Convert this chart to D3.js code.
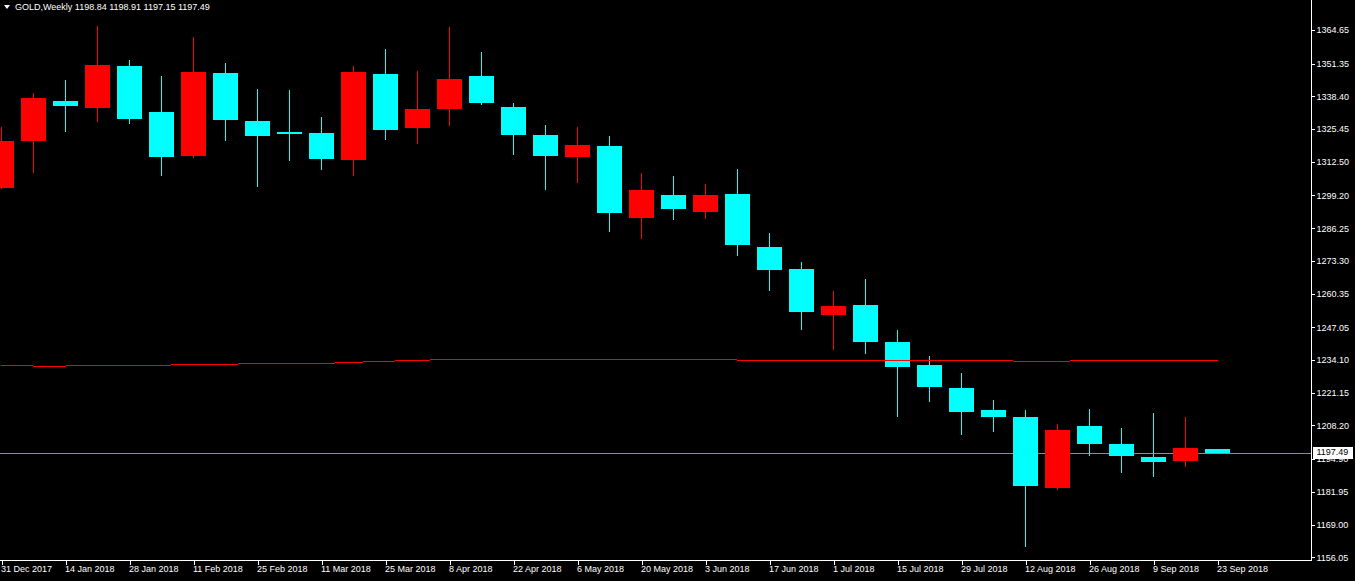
<!DOCTYPE html>
<html><head><meta charset="utf-8">
<script src="https://cdn.jsdelivr.net/npm/d3@7"></script>
<style>
html,body{margin:0;padding:0;background:#000;}
svg{display:block;}
text{font-family:"Liberation Sans",Arial,sans-serif;}
</style></head>
<body>
<svg id="c" width="1355" height="581"></svg>
<script>
// ---- data ----
const weeks = ["31 Dec 2017","7 Jan 2018","14 Jan 2018","21 Jan 2018","28 Jan 2018","4 Feb 2018","11 Feb 2018","18 Feb 2018","25 Feb 2018","4 Mar 2018","11 Mar 2018","18 Mar 2018","25 Mar 2018","1 Apr 2018","8 Apr 2018","15 Apr 2018","22 Apr 2018","29 Apr 2018","6 May 2018","13 May 2018","20 May 2018","27 May 2018","3 Jun 2018","10 Jun 2018","17 Jun 2018","24 Jun 2018","1 Jul 2018","8 Jul 2018","15 Jul 2018","22 Jul 2018","29 Jul 2018","5 Aug 2018","12 Aug 2018","19 Aug 2018","26 Aug 2018","2 Sep 2018","9 Sep 2018","16 Sep 2018","23 Sep 2018"];
const open  = [1302.25,1320.73,1336.55,1333.78,1350.40,1332.20,1314.91,1347.63,1328.64,1324.29,1323.89,1313.33,1347.23,1325.99,1333.38,1346.44,1334.18,1323.10,1314.52,1318.75,1290.39,1299.36,1292.76,1299.76,1278.80,1270.09,1252.02,1255.85,1241.22,1232.12,1223.02,1214.32,1211.55,1183.58,1207.99,1200.87,1195.73,1194.26,1198.84];
const high  = [1326.26,1339.71,1344.86,1366.22,1352.77,1346.44,1361.87,1351.58,1341.30,1340.90,1330.22,1350.40,1357.12,1348.42,1365.82,1355.93,1335.76,1327.06,1326.26,1322.70,1308.07,1306.88,1303.72,1309.65,1284.33,1272.86,1261.39,1266.14,1245.96,1235.68,1228.95,1218.27,1214.32,1208.78,1214.71,1207.20,1213.13,1211.55,1198.91];
const low   = [1301.90,1308.19,1324.41,1328.36,1327.57,1307.00,1314.12,1320.84,1302.65,1312.93,1309.37,1307.00,1321.24,1319.66,1326.78,1335.08,1315.31,1301.46,1304.23,1284.85,1282.08,1289.60,1289.99,1275.35,1261.51,1246.08,1238.17,1236.59,1211.67,1217.60,1204.55,1205.73,1160.24,1182.79,1196.24,1189.52,1187.93,1191.89,1197.15];
const close = [1320.73,1337.74,1334.57,1350.79,1329.43,1314.52,1348.02,1329.15,1322.82,1323.61,1313.72,1348.02,1325.20,1333.38,1345.25,1335.88,1323.22,1314.91,1319.14,1292.36,1301.34,1293.95,1299.36,1279.71,1269.82,1253.20,1255.46,1241.34,1231.45,1223.53,1213.65,1211.67,1184.37,1206.41,1200.99,1196.24,1193.87,1199.29,1197.49];
const ma    = [1232.00,1231.72,1231.72,1232.00,1232.00,1232.00,1232.40,1232.40,1232.71,1232.71,1232.71,1233.19,1233.58,1233.98,1234.29,1234.37,1234.37,1234.37,1234.37,1234.37,1234.37,1234.37,1234.37,1234.10,1233.98,1233.98,1233.98,1233.98,1233.98,1233.98,1233.98,1233.90,1233.58,1233.58,1233.90,1233.98,1233.98,1233.98,1233.98];
const priceTicks = [1364.65,1351.35,1338.40,1325.45,1312.50,1299.20,1286.25,1273.30,1260.35,1247.05,1234.10,1221.15,1208.20,1194.90,1181.95,1169.00,1156.05];
const dateTickIdx = [0,2,4,6,8,10,12,14,16,18,20,22,24,26,28,30,32,34,36,38];
const symbol = "GOLD,Weekly";
const bid = 1197.49;

// ---- layout ----
const svg = d3.select("#c");
const W = 1355, H = 581, plotR = 1311.5, plotB = 560.5;
svg.append("rect").attr("width",W).attr("height",H).attr("fill","#000");

const x = d3.scaleLinear().domain([0, weeks.length-1]).range([1.5, 1.5 + 32*(weeks.length-1)]);
const y = d3.scaleLinear().domain([1156.05, 1364.65]).range([557.3, 30]);

const data = weeks.map((w,i)=>({i, w, o:open[i], h:high[i], l:low[i], c:close[i], m:ma[i]}));
const upCol = "#ff0000", dnCol = "#00ffff";
const col = d => d.c >= d.o ? upCol : dnCol;

const g = svg.append("g");
// bid line
g.append("line").attr("x1",0).attr("x2",plotR).attr("y1",Math.round(y(bid))+0.5).attr("y2",Math.round(y(bid))+0.5)
  .attr("stroke","#7f8fa6").attr("stroke-width",1).attr("shape-rendering","crispEdges");

// wicks
g.selectAll("line.wick").data(data).enter().append("line").attr("class","wick")
  .attr("x1",d=>Math.floor(x(d.i))+0.5).attr("x2",d=>Math.floor(x(d.i))+0.5)
  .attr("y1",d=>y(d.h)).attr("y2",d=>y(d.l))
  .attr("stroke",col).attr("stroke-width",1).attr("shape-rendering","crispEdges");
// bodies
g.selectAll("rect.body").data(data).enter().append("rect").attr("class","body")
  .attr("x",d=>x(d.i)-12.5).attr("width",25)
  .attr("y",d=>y(Math.max(d.o,d.c)))
  .attr("height",d=>Math.max(1, y(Math.min(d.o,d.c)) - y(Math.max(d.o,d.c))))
  .attr("fill",col).attr("shape-rendering","crispEdges");

// moving average
g.append("path").datum(data)
  .attr("d", d3.line().x(d=>x(d.i)).y(d=>y(d.m)))
  .attr("fill","none").attr("stroke","#ff0000").attr("stroke-width",1).attr("shape-rendering","crispEdges");

// axes frame
svg.append("line").attr("x1",plotR).attr("x2",plotR).attr("y1",0).attr("y2",plotB)
  .attr("stroke","#fff").attr("shape-rendering","crispEdges");
svg.append("line").attr("x1",0).attr("x2",plotR).attr("y1",plotB).attr("y2",plotB)
  .attr("stroke","#fff").attr("shape-rendering","crispEdges");

// right price axis
const ya = svg.append("g").attr("transform",`translate(${plotR},0)`)
  .call(d3.axisRight(y).tickValues(priceTicks).tickSize(3).tickPadding(2).tickFormat(d3.format(".2f")));
ya.select(".domain").remove();
ya.selectAll(".tick line").attr("stroke","#fff").attr("shape-rendering","crispEdges");
ya.selectAll(".tick text").attr("fill","#fff").attr("font-size",9).attr("font-family","Liberation Sans, Arial, sans-serif");

// bottom date axis
const xa = svg.append("g").attr("transform",`translate(0,${plotB})`)
  .call(d3.axisBottom(x).tickValues(dateTickIdx).tickSize(4).tickFormat(i=>weeks[i]));
xa.select(".domain").remove();
xa.selectAll(".tick line").attr("stroke","#fff").attr("shape-rendering","crispEdges");
xa.selectAll(".tick text").attr("fill","#fff").attr("font-size",9).attr("text-anchor","start")
  .attr("x",-1).attr("y",5).attr("dy","0.71em").attr("font-family","Liberation Sans, Arial, sans-serif");

// bid label on axis
const by = y(bid);
svg.append("rect").attr("x",plotR+1).attr("y",Math.round(by)-6).attr("width",40).attr("height",12)
  .attr("fill","#fff").attr("shape-rendering","crispEdges");
svg.append("text").attr("x",plotR+5).attr("y",by).attr("dy","0.32em").attr("font-size",9)
  .attr("fill","#000").text(d3.format(".2f")(bid));

// header
svg.append("path").attr("d","M4,5 L10,5 L7,9 Z").attr("fill","#fff");
const last = data[data.length-1];
svg.append("text").attr("x",15).attr("y",7).attr("dy","0.32em").attr("font-size",9).attr("fill","#fff")
  .text(symbol + "  " + [last.o,last.h,last.l,last.c].map(d3.format(".2f")).join(" "));
</script>
</body></html>
